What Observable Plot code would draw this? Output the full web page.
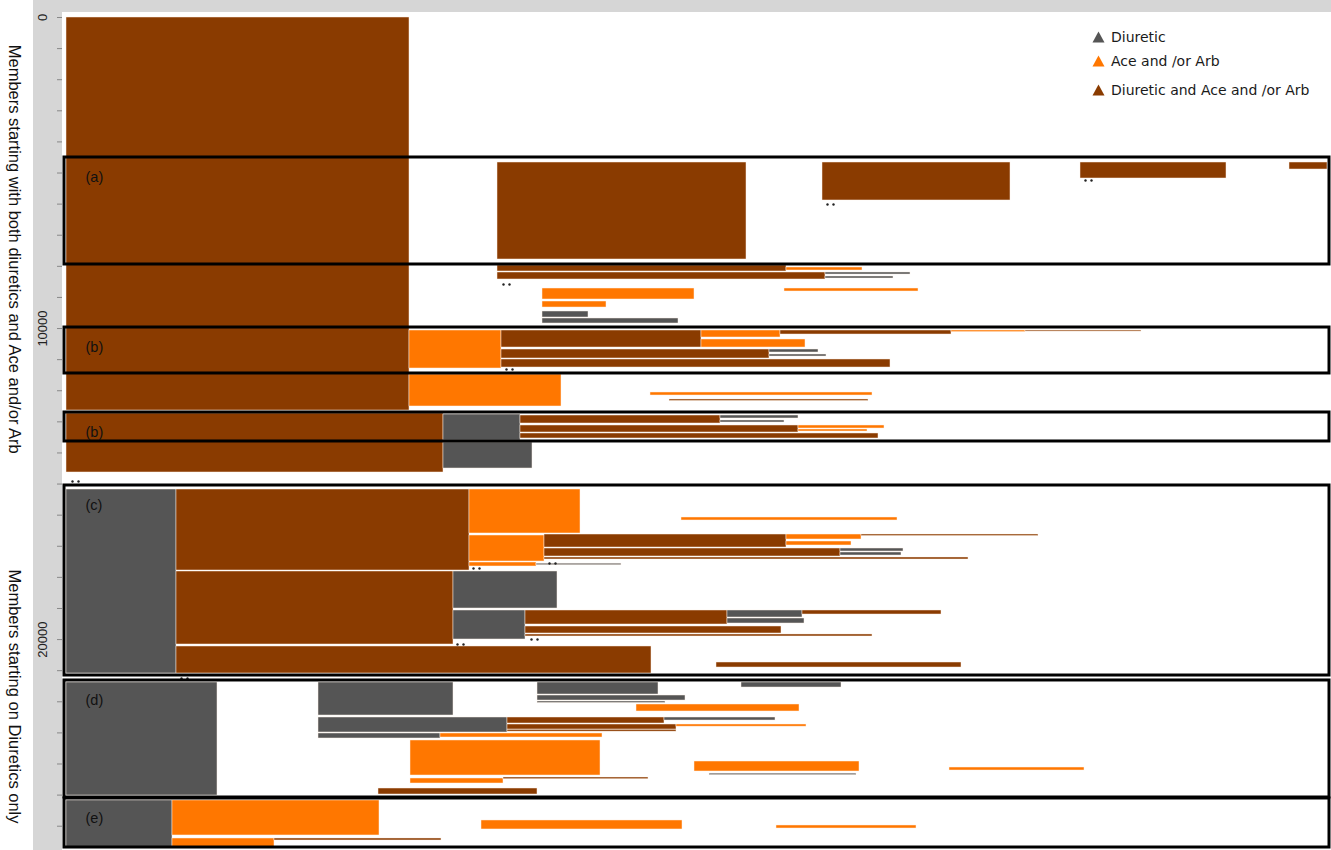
<!DOCTYPE html>
<html>
<head>
<meta charset="utf-8">
<script src="https://cdn.jsdelivr.net/npm/d3@7"></script>
<script src="https://cdn.jsdelivr.net/npm/@observablehq/plot@0.6"></script>
<style>
  body { margin: 0; background: #fff; font-family: "Liberation Sans", Arial, sans-serif; }
  #wrap { position: relative; width: 1331px; height: 850px; overflow: hidden; }
  .band { position: absolute; background: #d6d6d6; }
  #chart { position: absolute; left: 0; top: 0; }
  #legend { position: absolute; left: 1092px; top: 25px; font-family: "DejaVu Sans", Verdana, sans-serif; font-size: 14px; color: #1a1a1a; }
  #legend div { height: 24px; display: flex; align-items: center; }
  #legend svg { margin-right: 6px; }
</style>
</head>
<body>
<div id="wrap">
  <div class="band" style="left:33px;top:0;width:29px;height:850px"></div>
  <div class="band" style="left:33px;top:0;width:1298px;height:12px"></div>
  <div id="chart"></div>
  <div id="legend"></div>
</div>
<script>
// Treatment pathways: each bar is [start day, end day, first member, last member, regimen]
// D = Diuretic, A = Ace and/or Arb, B = Diuretic and Ace and/or Arb
const regimenCodes = ["D", "A", "B"];
const regimenNames = ["Diuretic", "Ace and /or Arb", "Diuretic and Ace and /or Arb"];
const regimenColors = ["#555555", "#ff7700", "#8a3b00"];

// Members starting with both diuretics and Ace and/or Arb
const startBoth = [
  [0, 343, 0, 12635, "B"],
  [0, 377, 12731, 14628, "B"]
];
const pathA = [
  [431, 680, 4662, 7780, "B"],
  [756, 944, 4662, 5883, "B"],
  [1014, 1160, 4662, 5176, "B"],
  [1223, 1261, 4662, 4887, "B"]
];
const afterA = [
  [431, 720, 7973, 8166, "B"],
  [720, 796, 8037, 8134, "A"],
  [431, 759, 8198, 8423, "B"],
  [759, 844, 8198, 8263, "D"],
  [759, 827, 8327, 8391, "D"],
  [718, 852, 8713, 8809, "A"],
  [476, 628, 8713, 9066, "A"],
  [476, 540, 9131, 9324, "A"],
  [476, 522, 9452, 9645, "D"],
  [476, 612, 9677, 9838, "D"]
];
const pathB1 = [
  [343, 435, 10063, 11285, "A"],
  [435, 635, 10063, 10610, "B"],
  [635, 714, 10063, 10288, "A"],
  [714, 885, 10063, 10192, "B"],
  [885, 959, 10063, 10115, "A"],
  [959, 1075, 10063, 10098, "B"],
  [635, 739, 10352, 10610, "A"],
  [435, 703, 10674, 10963, "B"],
  [703, 752, 10674, 10770, "D"],
  [703, 760, 10835, 10899, "D"],
  [435, 824, 10995, 11253, "B"]
];
const betweenB = [
  [343, 495, 11478, 12506, "A"],
  [584, 806, 12056, 12153, "A"],
  [603, 802, 12281, 12330, "B"]
];
const pathB2 = [
  [377, 454, 12764, 13599, "D"],
  [377, 466, 13664, 14500, "D"],
  [454, 654, 12796, 13053, "B"],
  [654, 732, 12796, 12892, "D"],
  [654, 718, 12956, 13021, "D"],
  [454, 732, 13117, 13342, "B"],
  [732, 818, 13117, 13214, "A"],
  [732, 801, 13246, 13310, "A"],
  [454, 812, 13374, 13535, "B"]
];

// Members starting on Diuretics only
const pathC = [
  [0, 110, 15175, 21090, "D"],
  [110, 403, 15175, 17779, "B"],
  [403, 514, 15175, 16589, "A"],
  [615, 831, 16075, 16171, "A"],
  [403, 478, 16654, 17490, "A"],
  [403, 470, 17522, 17650, "A"],
  [470, 555, 17560, 17610, "D"],
  [478, 720, 16622, 17040, "B"],
  [720, 795, 16622, 16782, "A"],
  [795, 972, 16622, 16672, "B"],
  [720, 785, 16847, 16975, "A"],
  [478, 774, 17072, 17329, "B"],
  [774, 837, 17072, 17168, "D"],
  [774, 835, 17200, 17297, "D"],
  [478, 902, 17361, 17425, "B"],
  [110, 387, 17811, 20158, "B"],
  [387, 491, 17811, 19001, "D"],
  [387, 459, 19065, 19997, "D"],
  [459, 661, 19065, 19515, "B"],
  [661, 736, 19065, 19290, "D"],
  [661, 738, 19322, 19483, "D"],
  [736, 875, 19065, 19194, "B"],
  [459, 715, 19579, 19804, "B"],
  [459, 806, 19836, 19900, "B"],
  [110, 585, 20222, 21090, "B"],
  [650, 895, 20737, 20898, "B"]
];
const pathD = [
  [0, 151, 21380, 25013, "D"],
  [252, 387, 21380, 22441, "D"],
  [252, 441, 22505, 22987, "D"],
  [252, 374, 23019, 23180, "D"],
  [374, 536, 23019, 23148, "A"],
  [441, 598, 22505, 22698, "B"],
  [598, 709, 22505, 22602, "D"],
  [441, 610, 22730, 22891, "B"],
  [610, 740, 22730, 22800, "A"],
  [441, 610, 22900, 22960, "B"],
  [471, 592, 21380, 21766, "D"],
  [471, 619, 21798, 21959, "D"],
  [471, 599, 21991, 22040, "D"],
  [570, 733, 22087, 22312, "A"],
  [675, 775, 21380, 21541, "D"],
  [344, 534, 23244, 24370, "A"],
  [344, 437, 24466, 24627, "A"],
  [437, 582, 24434, 24490, "B"],
  [312, 471, 24788, 24981, "B"],
  [628, 793, 23920, 24241, "A"],
  [643, 790, 24310, 24360, "D"],
  [883, 1018, 24113, 24209, "A"]
];
const pathE = [
  [0, 106, 25173, 26685, "D"],
  [106, 313, 25173, 26298, "A"],
  [106, 208, 26395, 26685, "A"],
  [208, 375, 26395, 26459, "B"],
  [415, 616, 25816, 26105, "A"],
  [710, 850, 25977, 26074, "A"]
];

// Significance markers (day, member)
const markers = [
  [6, 14918], [437, 8584], [761, 6012], [1019, 5240], [440, 11317],
  [407, 17715], [483, 17554], [391, 20158], [465, 19997], [115, 21251]
];

// Highlighted pathway groups
const groups = [
  [-2, 1263, 4501, 7941, "(a)"],
  [-2, 1263, 9967, 11445, "(b)"],
  [-2, 1263, 12699, 13631, "(b)"],
  [-2, 1263, 15046, 21155, "(c)"],
  [-2, 1263, 21315, 25077, "(d)"],
  [-2, 1263, 25109, 26685, "(e)"]
];

const yLabels = [0, 10000, 20000];
const sideTitles = [
  [7450, "Members starting with both diuretics and Ace and/or Arb"],
  [21830, "Members starting on Diuretics only"]
];

const toBar = ([x1, x2, y1, y2, code]) => ({x1, x2, y1, y2, code});
const bars = [startBoth, pathA, afterA, pathB1, betweenB, pathB2, pathC, pathD, pathE]
  .flat().map(toBar);
const boxes = groups.map(([x1, x2, y1, y2, label]) => ({x1, x2, y1, y2, label}));
const marks = markers.map(([x, y]) => ({x, y}));

const font = "Liberation Sans, Arial, sans-serif";

const chart = Plot.plot({
  width: 1331,
  height: 850,
  marginLeft: 62,
  marginRight: 0,
  marginTop: 17,
  marginBottom: 0,
  style: {background: "transparent", fontFamily: font},
  x: {domain: [-4, 1265], range: [62, 1331], axis: null},
  y: {domain: [0, 26781], range: [17, 850], axis: null},
  color: {domain: regimenCodes, range: regimenColors},
  marks: [
    Plot.rect(bars, {
      x1: "x1", x2: "x2", y1: "y1", y2: "y2", fill: "code",
      stroke: "#fff4ea", strokeWidth: 0.6, strokeOpacity: 0.8
    }),
    Plot.dot(marks, {x: "x", y: "y", r: 1.2, fill: "#222", stroke: null}),
    Plot.dot(marks, {x: "x", y: "y", r: 1.2, fill: "#222", stroke: null, dx: 6}),
    Plot.rect(boxes, {
      x1: "x1", x2: "x2", y1: "y1", y2: "y2",
      fill: "none", stroke: "#000", strokeWidth: 3
    }),
    Plot.text(boxes, {
      x: "x1", y: "y1", text: "label", dx: 21, dy: 20,
      textAnchor: "start", fontSize: 14.5, fill: "#111"
    }),
    Plot.axisY({
      ticks: d3.range(0, 27000, 1000), tickFormat: () => "",
      tickSize: 5, stroke: "#888", anchor: "left"
    }),
    Plot.text(yLabels, {
      y: d => d, text: d => String(d), frameAnchor: "left",
      textAnchor: "middle", dx: -20, rotate: -90, fontSize: 13, fill: "#222"
    }),
    Plot.text(sideTitles, {
      y: d => d[0], text: d => d[1], frameAnchor: "left",
      textAnchor: "middle", dx: -48, rotate: 90, fontSize: 16.5, fill: "#111"
    })
  ]
});
document.getElementById("chart").appendChild(chart);

// Legend
const legend = document.getElementById("legend");
regimenNames.forEach((name, i) => {
  const row = document.createElement("div");
  if (i === 2) row.style.marginTop = "5px";
  row.innerHTML =
    `<svg width="13" height="12" viewBox="0 0 13 12"><polygon points="6.5,0.5 12.5,11.5 0.5,11.5" fill="${regimenColors[i]}"/></svg>` +
    `<span>${name}</span>`;
  legend.appendChild(row);
});
</script>
</body>
</html>
